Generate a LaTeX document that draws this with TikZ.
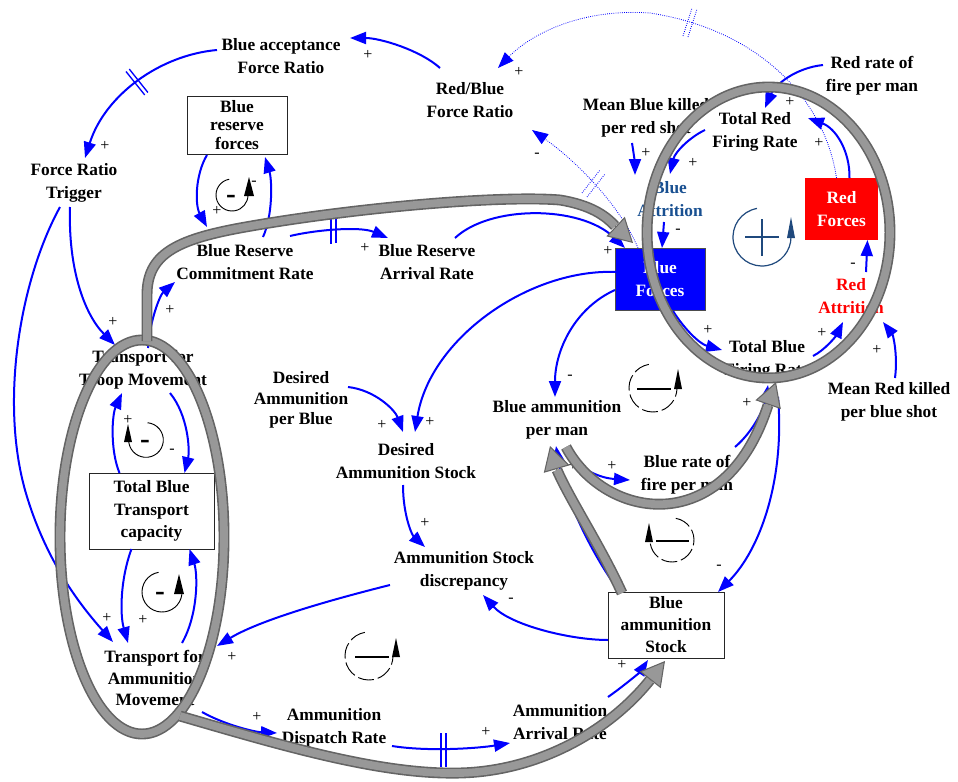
\documentclass[tikz,border=0pt]{standalone}
\usepackage{fontspec}
\setmainfont{Liberation Serif}
\usetikzlibrary{arrows.meta,calc}
\definecolor{cb}{RGB}{0,0,255}
\definecolor{bandbody}{RGB}{152,152,152}
\definecolor{bandedge}{RGB}{100,100,100}
\definecolor{navyloop}{RGB}{31,73,125}
\definecolor{attrblue}{RGB}{25,80,145}
\definecolor{redf}{RGB}{255,0,0}
\tikzset{
 var/.style={align=center, inner sep=0pt, font=\fontsize{13}{17}\selectfont\bfseries},
 boxv/.style={var, draw=black!85, line width=0.75pt},
 conn/.style={draw=cb, line width=1.5pt, -{Triangle[length=12pt,width=9pt]}},
 dconn/.style={draw=cb, line width=0.6pt, densely dotted, -{Triangle[length=12pt,width=9pt]}},
 dmark/.style={draw=cb, line width=1pt},
 ddmark/.style={draw=cb, line width=0.6pt, densely dotted},
 sgn/.style={inner sep=0pt, font=\fontsize{12}{12}\selectfont},
 lsgn/.style={inner sep=0pt, font=\fontsize{22}{22}\selectfont\bfseries},
 band/.style={draw=bandedge, line width=1.2pt, double=bandbody, double distance=5.8pt},
 bandhead/.style={draw=bandedge, line width=0.8pt, -{Triangle[length=18pt,width=20pt,fill=bandbody]}},
 loopc/.style={line width=0.7pt},
 loopd/.style={line width=0.7pt, dash pattern=on 12pt off 3pt},
 loopbar/.style={line width=1.6pt},
}
\begin{document}
\begin{tikzpicture}[x=0.75pt,y=-0.75pt]
\fill[white] (0,0) rectangle (958,782);
\useasboundingbox (0,0) rectangle (958,782);

% ---------- variables ----------
\node[var] (bafr) at (281,56) {Blue acceptance\\Force Ratio};
\node[var] (rbfr) at (470,100) {Red/Blue\\Force Ratio};
\node[boxv, minimum width=75pt, minimum height=43.5pt, font=\fontsize{13}{14}\selectfont\bfseries] (brf) at (237,125) {Blue\\reserve\\forces};
\node[var] (frt) at (74,183) {Force Ratio\\Trigger};
\node[var] (brcr) at (245,262) {Blue Reserve\\Commitment Rate};
\node[var] (brar) at (427,262) {Blue Reserve\\Arrival Rate};
\node[var] (mbk) at (646,118) {Mean Blue killed\\per red shot};
\node[var] (trfr) at (755,132) {Total Red\\Firing Rate};
\node[var] (rrf) at (872,76) {Red rate of\\fire per man};
\node[var, text=attrblue] (ba) at (670,199) {Blue\\Attrition};
\node[var, fill=redf, text=white, minimum width=54.75pt, minimum height=46.5pt] (rf) at (841.5,209) {Red\\Forces};
\node[var, fill=cb, draw=black!70, line width=0.5pt, text=white, minimum width=67.5pt, minimum height=46.5pt] (bf) at (660,279) {Blue\\Forces};
\node[var, text=redf] (ra) at (851,296) {Red\\Attrition};
\node[var] (tbfr) at (767,360) {Total Blue\\Firing Rate};
\node[var] (mrk) at (889,402) {Mean Red killed\\per blue shot};
\node[var] (ttm) at (143,370) {Transport for\\Troop Movement};
\node[var, font=\fontsize{13}{15.5}\selectfont\bfseries] (dapb) at (301,400) {Desired\\Ammunition\\per Blue};
\node[var] (das) at (406,461) {Desired\\Ammunition Stock};
\node[var] (bapm) at (557,420) {Blue ammunition\\per man};
\node[var] (brfm) at (687,475) {Blue rate of\\fire per man};
\node[boxv, minimum width=93.75pt, minimum height=57pt] (tbtc) at (151.5,511) {Total Blue\\Transport\\capacity};
\node[var] (asd) at (464,571) {Ammunition Stock\\discrepancy};
\node[boxv, minimum width=87pt, minimum height=49.5pt, font=\fontsize{13}{16.5}\selectfont\bfseries] (bas) at (666,625) {Blue\\ammunition\\Stock};
\node[var, font=\fontsize{13}{16}\selectfont\bfseries] (tam) at (155,678) {Transport for\\Ammunition\\Movement};
\node[var] (adr) at (334,728) {Ammunition\\Dispatch Rate};
\node[var] (aar) at (560,722) {Ammunition\\Arrival Rate};

% ---------- causal links ----------
\draw[conn] ($(rbfr)+(-30,-32)$) .. controls (420,50) and (380,38) .. ($(bafr)+(69,-18)$);
\draw[conn] ($(bafr)+(-64,-6)$) .. controls (160,55) and (105,95) .. ($(frt)+(11,-25)$);
\draw[conn] ($(frt)+(-4,24)$) .. controls (68,270) and (85,315) .. ($(ttm)+(-28,-25)$);
\draw[conn] ($(frt)+(-14,24)$) .. controls (20,280) and (0,400) .. (25,490) .. controls (45,560) and (80,605) .. ($(tam)+(-42,-36)$);
\draw[conn] ($(brf)+(-30,30)$) .. controls (195,175) and (195,205) .. ($(brcr)+(-38,-35)$);
\draw[conn] ($(brcr)+(18,-25)$) .. controls (273,215) and (272,180) .. ($(brf)+(28,32)$);
\draw[conn] ($(brcr)+(45,-26)$) .. controls (315,230) and (360,226) .. ($(brar)+(-39,-24)$);
\draw[conn] ($(brar)+(28,-24)$) .. controls (490,205) and (580,205) .. ($(bf)+(-35,-31)$);
\draw[dconn] ($(rf)+(-5,-31)$) .. controls (825,100) and (760,30) .. (650,13) .. controls (580,8) and (530,35) .. ($(rbfr)+(28,-32)$);
\draw[dconn] ($(bf)+(-22,-31)$) .. controls (620,205) and (575,160) .. ($(rbfr)+(62,30)$);
\draw[conn] ($(mbk)+(-14,25)$) .. controls (634,155) and (635,165) .. ($(ba)+(-35,-24)$);
\draw[conn] ($(trfr)+(-50,-2)$) .. controls (690,137) and (675,152) .. ($(ba)+(0,-25)$);
\draw[conn] ($(rrf)+(-49,-11)$) .. controls (795,68) and (775,85) .. ($(trfr)+(10,-24)$);
\draw[conn] ($(rf)+(8,-31)$) .. controls (850,150) and (835,128) .. ($(trfr)+(53,-14)$);
\draw[conn] ($(ba)+(-6,23)$) -- ($(bf)+(2,-31)$);
\draw[conn] ($(ra)+(15,-24)$) -- ($(rf)+(26,31)$);
\draw[conn] ($(tbfr)+(46,-4)$) .. controls (825,350) and (836,336) .. ($(ra)+(-8,26)$);
\draw[conn] ($(mrk)+(6,-24)$) .. controls (898,355) and (893,335) .. ($(ra)+(32,26)$);
\draw[conn] ($(bf)+(13,32)$) .. controls (685,330) and (700,344) .. ($(tbfr)+(-45,-10)$);
\draw[conn] ($(bf)+(-43,-7)$) .. controls (530,268) and (430,338) .. ($(das)+(9,-29)$);
\draw[conn] ($(bf)+(-45,11)$) .. controls (575,308) and (555,350) .. ($(bapm)+(-2,-23)$);
\draw[conn] ($(dapb)+(47,-13)$) .. controls (375,390) and (395,410) .. ($(das)+(-3,-29)$);
\draw[conn] ($(das)+(-3,24)$) .. controls (403,515) and (412,535) .. ($(asd)+(-39,-24)$);
\draw[conn] ($(asd)+(-74,14)$) .. controls (330,600) and (260,620) .. ($(tam)+(62,-32)$);
\draw[conn] ($(bas)+(-58,15)$) .. controls (570,640) and (510,625) .. ($(asd)+(19,24)$);
\draw[conn] ($(bapm)+(8,30)$) .. controls (580,470) and (600,478) .. ($(brfm)+(-57,5)$);
\draw[conn] ($(brfm)+(48,-28)$) .. controls (755,430) and (765,405) .. ($(tbfr)+(1,25)$);
\draw[conn] ($(tbfr)+(11,37)$) .. controls (785,480) and (760,550) .. ($(bas)+(52,-33)$);
\draw[conn] ($(bas)+(-46,-33)$) .. controls (595,560) and (565,500) .. ($(bapm)+(-1,26)$);
\draw[conn] ($(tam)+(47,34)$) .. controls (225,725) and (255,732) .. ($(adr)+(-57,5)$);
\draw[conn] ($(adr)+(58,18)$) .. controls (430,752) and (480,748) .. ($(aar)+(-50,21)$);
\draw[conn] ($(aar)+(48,-25)$) .. controls (625,685) and (640,672) .. ($(bas)+(-18,35)$);
\draw[conn] ($(ttm)+(5,-22)$) .. controls (150,320) and (160,295) .. ($(brcr)+(-70,20)$);
\draw[conn] ($(tbtc)+(-32,-38)$) .. controls (110,450) and (112,415) .. ($(ttm)+(-21,23)$);
\draw[conn] ($(ttm)+(27,23)$) .. controls (188,415) and (190,450) .. ($(tbtc)+(33,-38)$);
\draw[conn] ($(tbtc)+(-20,38)$) .. controls (120,580) and (120,615) .. ($(tam)+(-27,-35)$);
\draw[conn] ($(tam)+(27,-35)$) .. controls (198,615) and (198,575) .. ($(tbtc)+(38,38)$);

% delay marks
\draw[dmark] (126,71.5) -- (144.7,94.9) (129.3,69.1) -- (147.9,92.5);
\draw[dmark] (331,219) -- (331,244) (336,218) -- (336,243);
\draw[dmark] (441,733) -- (441,767) (446,733) -- (446,767);
\draw[ddmark] (683,36) -- (692,8) (688,37) -- (697,9);
\draw[ddmark] (582,193) -- (600,170) (587,197) -- (605,174);

% polarity signs
\node[sgn] (g1) at (368,55) {+};
\node[sgn] (g2) at (105,146) {+};
\node[sgn] (g3) at (113,322) {+};
\node[sgn] (g4) at (107,618) {+};
\node[sgn] (g5) at (217,211) {+};
\node[sgn] (g6) at (254,183) {-};
\node[sgn] (g7) at (365,248) {+};
\node[sgn] (g8) at (608,251) {+};
\node[sgn] (g9) at (519,72) {+};
\node[sgn] (g10) at (537,155) {-};
\node[sgn] (g11) at (646,153) {+};
\node[sgn] (g12) at (693,163) {+};
\node[sgn] (g13) at (790,102) {+};
\node[sgn] (g14) at (819,143) {+};
\node[sgn] (g15) at (678,231) {-};
\node[sgn] (g16) at (853,265) {-};
\node[sgn] (g17) at (822,333) {+};
\node[sgn] (g18) at (877,350) {+};
\node[sgn] (g19) at (708,330) {+};
\node[sgn] (g20) at (430,422) {+};
\node[sgn] (g21) at (570,377) {-};
\node[sgn] (g22) at (382,425) {+};
\node[sgn] (g23) at (425,523) {+};
\node[sgn] (g24) at (232,657) {+};
\node[sgn] (g25) at (511,600) {-};
\node[sgn] (g26) at (612,466) {+};
\node[sgn] (g27) at (747,403) {+};
\node[sgn] (g28) at (719,567) {-};
\node[sgn] (g29) at (573,466) {+};
\node[sgn] (g30) at (257,717) {+};
\node[sgn] (g31) at (486,732) {+};
\node[sgn] (g32) at (622,665) {+};
\node[sgn] (g33) at (170,310) {+};
\node[sgn] (g34) at (128,420) {+};
\node[sgn] (g35) at (172,451) {-};
\node[sgn] (g36) at (143,620) {+};

% ---------- loop markers ----------
\draw[loopc] ($(232,195)+(100:12pt)$) arc[start angle=100, end angle=360, radius=12pt];
\fill (244,196) -- (254,196) -- (249,177) -- cycle;
\node[lsgn] (l1) at (231,199) {-};

\draw[loopc] ($(146,440)+(85:13pt)$) arc[start angle=85, end angle=-180, radius=13pt];
\fill (124,442) -- (132,442) -- (128,424) -- cycle;
\node[lsgn] (l2) at (145,444) {-};

\draw[loopc] ($(162,592)+(100:15pt)$) arc[start angle=100, end angle=360, radius=15pt];
\fill (174,594) -- (184,594) -- (179,574) -- cycle;
\node[lsgn] (l3) at (160,596) {-};

\draw[loopd] ($(369,656)+(100:18pt)$) arc[start angle=100, end angle=360, radius=18pt];
\draw[loopbar] (355,657) -- (389,657);
\fill (392,657) -- (400,657) -- (396,638) -- cycle;

\draw[loopd] ($(653,388)+(100:18pt)$) arc[start angle=100, end angle=360, radius=18pt];
\draw[loopbar] (637,389) -- (671,389);
\fill (674,389) -- (682,389) -- (678,369) -- cycle;

\draw[loopd] ($(672,540)+(80:16.5pt)$) arc[start angle=80, end angle=-180, radius=16.5pt];
\draw[loopbar] (656,541) -- (689,541);
\fill (645,542) -- (653,542) -- (649,523) -- cycle;

\draw[navyloop, line width=0.9pt] ($(762,237)+(100:21.75pt)$) arc[start angle=100, end angle=360, radius=21.75pt];
\draw[navyloop, line width=1.6pt] (745,237) -- (779,237) (762,219) -- (762,256);
\fill[navyloop] (787,238) -- (795,238) -- (791,217) -- cycle;

% ---------- major feedback loop bands ----------
\draw[band] (142,537) ellipse [x radius=61.5pt, y radius=147.75pt];
\draw[band] (768.5,232.5) ellipse [x radius=91.1pt, y radius=109.1pt];
\coordinate (fb0) at (147,341);
\coordinate (fb1) at (615,226);
\coordinate (fb2) at (633,243);
\draw[band] (fb0) -- (147,295) .. controls (147,255) and (175,240) .. (240,228) .. controls (350,208) and (500,195) .. (560,200) .. controls (590,205) and (605,215) .. (fb1);
\draw[bandhead] (fb1) -- (fb2);
\coordinate (cb0) at (622,593);
\coordinate (cb1) at (557,470);
\coordinate (cb2) at (550,446);
\draw[band] (cb0) .. controls (600,545) and (570,500) .. (cb1);
\draw[bandhead] (cb1) -- (cb2);
\coordinate (db0) at (566,447);
\coordinate (db1) at (768,405);
\coordinate (db2) at (776,382);
\draw[band] (db0) .. controls (605,520) and (725,540) .. (db1);
\draw[bandhead] (db1) -- (db2);
\coordinate (eb0) at (180,716);
\coordinate (eb1) at (650,680);
\coordinate (eb2) at (665,661);
\draw[band] (eb0) .. controls (280,745) and (380,775) .. (460,773) .. controls (540,771) and (610,730) .. (eb1);
\draw[bandhead] (eb1) -- (eb2);
\end{tikzpicture}
\end{document}
